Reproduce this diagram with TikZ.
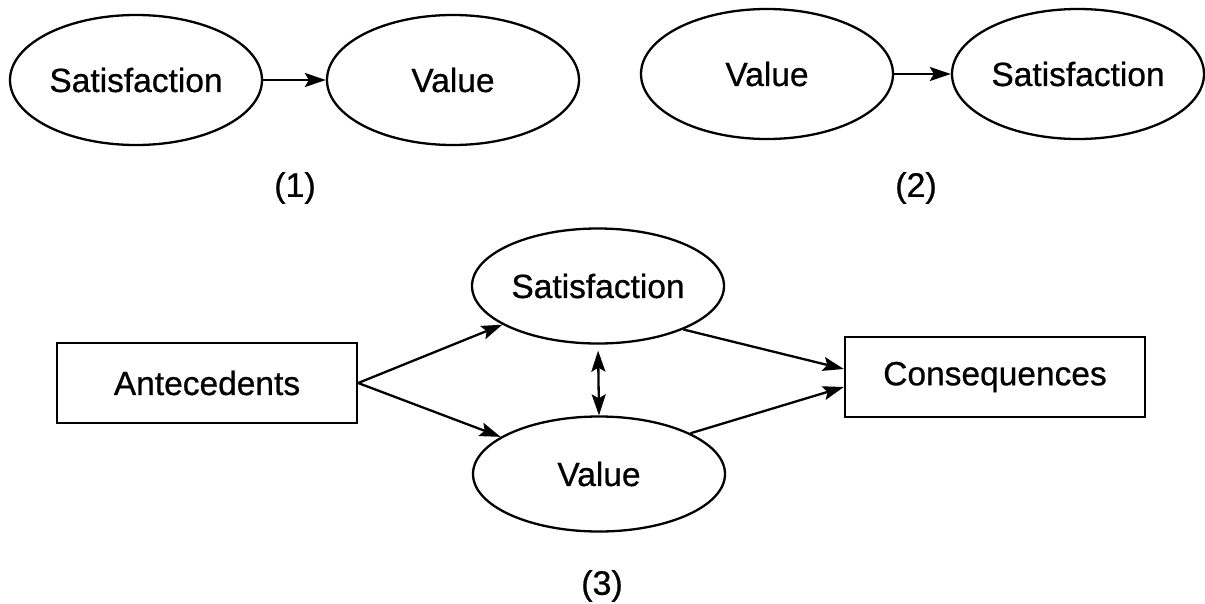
\documentclass[tikz,border=0pt]{standalone}
\usepackage{fontspec}
\setmainfont{Liberation Sans}[BoldFont={Liberation Sans},BoldFeatures={FakeBold=0.7}]
\usetikzlibrary{shapes.geometric,arrows.meta}
\begin{document}
\begin{tikzpicture}[x=1pt,y=-1pt,
  every node/.style={font=\fontsize{33.5}{38}\selectfont\bfseries},
  oval/.style={draw,ellipse,line width=2.3pt,inner sep=0pt,
    minimum width=252pt,minimum height=130pt},
  oval3/.style={oval,minimum height=115pt},
  block/.style={draw,rectangle,line width=2.3pt,inner sep=0pt,
    minimum width=300pt,minimum height=80pt},
  link/.style={line width=2.3pt,-{Stealth[length=21pt,width=14pt,inset=4pt]}},
  dlink/.style={line width=2.3pt,{Stealth[length=21pt,width=14pt,inset=4pt]}-{Stealth[length=21pt,width=14pt,inset=4pt]}},
  caption/.style={font=\fontsize{34}{38}\selectfont\bfseries}]
\useasboundingbox (0,0) rectangle (1205,603);

% (1) satisfaction leads to value
\node[oval] (s1) at (136,80) {Satisfaction};
\node[oval] (v1) at (453,80) {Value};
\draw[link] (s1) -- (v1);
\node[caption] (c1) at (295,188) {(1)};

% (2) value leads to satisfaction
\node[oval] (v2) at (767,74) {Value};
\node[oval] (s2) at (1078,74) {Satisfaction};
\draw[link] (v2) -- (s2);
\node[caption] (c2) at (916,188) {(2)};

% (3) joint model
\node[block] (ant) at (207,383) {Antecedents};
\node[block] (con) at (995,377) {Consequences};
\node[oval3] (s3) at (598,286) {Satisfaction};
\node[oval3] (v3) at (599,474) {Value};
\draw[link] (ant.east) -- (s3);
\draw[link] (ant.east) -- (v3);
\draw[link] (s3.-27) -- ([yshift=8pt]con.west);
\draw[link] (v3.24) -- ([yshift=-10pt]con.west);
\draw[dlink,shorten <=6pt] (s3.south) -- (v3.north);
\node[caption] (c3) at (602,586) {(3)};
\end{tikzpicture}
\end{document}
